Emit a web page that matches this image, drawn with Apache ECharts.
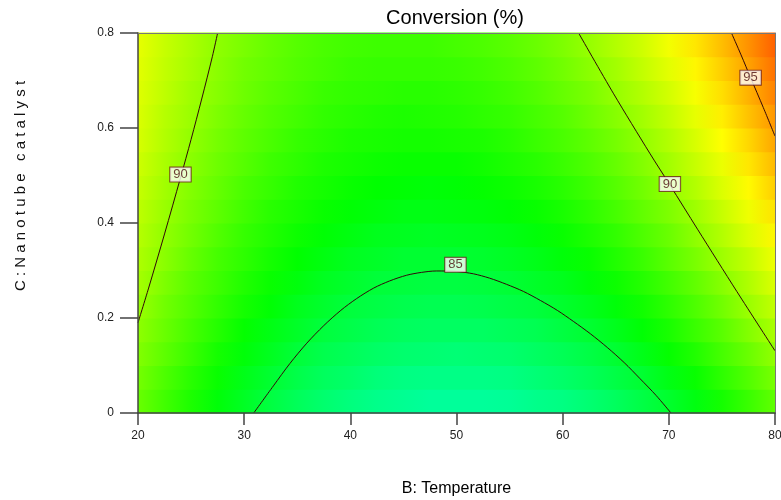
<!DOCTYPE html>
<html>
<head>
<meta charset="utf-8">
<script src="https://cdn.jsdelivr.net/npm/echarts@6/dist/echarts.min.js"></script>
<style>
html, body { margin: 0; padding: 0; background: #fff; }
#contour { width: 781px; height: 500px; }
</style>
</head>
<body>
<div id="contour"></div>
<script>
var contourChart = echarts.init(document.getElementById('contour'));

// temperature nodes along each band, catalyst band centres
var tempNodes = [20, 22.5, 25, 27.5, 30, 32.5, 35, 37.5, 40, 42.5, 45, 47.5, 50,
                 52.5, 55, 57.5, 60, 62.5, 65, 67.5, 70, 72.5, 75, 77.5, 80];
var catCells = [0.025, 0.075, 0.125, 0.175, 0.225, 0.275, 0.325, 0.375,
                0.425, 0.475, 0.525, 0.575, 0.625, 0.675, 0.725, 0.775];

// conversion (%), one row per catalyst band (bottom first)
var conv = [
  [89.0, 88.0, 87.1, 86.2, 85.5, 84.8, 84.2, 83.7, 83.3, 83.0, 82.8, 82.6, 82.6, 82.6, 82.7, 83.0, 83.2, 83.6, 84.1, 84.7, 85.3, 86.0, 86.9, 87.8, 88.8],
  [89.3, 88.3, 87.4, 86.6, 85.8, 85.2, 84.6, 84.1, 83.8, 83.4, 83.2, 83.1, 83.1, 83.1, 83.2, 83.5, 83.8, 84.2, 84.7, 85.2, 85.9, 86.6, 87.5, 88.4, 89.4],
  [89.6, 88.7, 87.8, 86.9, 86.2, 85.6, 85.0, 84.5, 84.2, 83.9, 83.7, 83.6, 83.5, 83.6, 83.7, 84.0, 84.3, 84.7, 85.2, 85.8, 86.5, 87.2, 88.1, 89.0, 90.0],
  [89.9, 89.0, 88.1, 87.3, 86.5, 85.9, 85.4, 84.9, 84.6, 84.3, 84.1, 84.0, 84.0, 84.0, 84.2, 84.4, 84.8, 85.2, 85.7, 86.3, 87.0, 87.8, 88.6, 89.6, 90.6],
  [90.2, 89.2, 88.4, 87.6, 86.9, 86.3, 85.7, 85.3, 84.9, 84.7, 84.5, 84.4, 84.4, 84.5, 84.7, 84.9, 85.3, 85.7, 86.2, 86.8, 87.5, 88.3, 89.2, 90.2, 91.2],
  [90.5, 89.5, 88.6, 87.9, 87.2, 86.6, 86.1, 85.6, 85.3, 85.0, 84.9, 84.8, 84.8, 84.9, 85.1, 85.4, 85.7, 86.2, 86.7, 87.3, 88.0, 88.8, 89.7, 90.7, 91.8],
  [90.7, 89.8, 88.9, 88.1, 87.5, 86.9, 86.4, 86.0, 85.6, 85.4, 85.2, 85.2, 85.2, 85.3, 85.5, 85.8, 86.2, 86.6, 87.2, 87.8, 88.6, 89.4, 90.3, 91.2, 92.3],
  [90.9, 90.0, 89.2, 88.4, 87.7, 87.2, 86.7, 86.3, 86.0, 85.7, 85.6, 85.5, 85.6, 85.7, 85.9, 86.2, 86.6, 87.1, 87.6, 88.3, 89.0, 89.9, 90.8, 91.8, 92.9],
  [91.1, 90.2, 89.4, 88.7, 88.0, 87.4, 87.0, 86.6, 86.3, 86.1, 85.9, 85.9, 86.0, 86.1, 86.3, 86.6, 87.0, 87.5, 88.1, 88.8, 89.5, 90.3, 91.3, 92.3, 93.4],
  [91.3, 90.4, 89.6, 88.9, 88.2, 87.7, 87.2, 86.9, 86.6, 86.4, 86.3, 86.2, 86.3, 86.5, 86.7, 87.0, 87.4, 87.9, 88.5, 89.2, 90.0, 90.8, 91.8, 92.8, 93.9],
  [91.5, 90.6, 89.8, 89.1, 88.5, 87.9, 87.5, 87.1, 86.9, 86.7, 86.6, 86.6, 86.6, 86.8, 87.1, 87.4, 87.8, 88.3, 88.9, 89.6, 90.4, 91.3, 92.2, 93.3, 94.4],
  [91.7, 90.8, 90.0, 89.3, 88.7, 88.2, 87.7, 87.4, 87.1, 87.0, 86.9, 86.9, 87.0, 87.1, 87.4, 87.8, 88.2, 88.7, 89.3, 90.0, 90.8, 91.7, 92.7, 93.7, 94.9],
  [91.8, 90.9, 90.2, 89.5, 88.9, 88.4, 88.0, 87.6, 87.4, 87.2, 87.1, 87.2, 87.3, 87.5, 87.7, 88.1, 88.5, 89.1, 89.7, 90.4, 91.2, 92.1, 93.1, 94.2, 95.3],
  [91.9, 91.1, 90.3, 89.7, 89.1, 88.6, 88.2, 87.8, 87.6, 87.5, 87.4, 87.4, 87.5, 87.7, 88.0, 88.4, 88.9, 89.4, 90.1, 90.8, 91.6, 92.5, 93.5, 94.6, 95.8],
  [92.0, 91.2, 90.5, 89.8, 89.2, 88.8, 88.4, 88.1, 87.8, 87.7, 87.7, 87.7, 87.8, 88.0, 88.3, 88.7, 89.2, 89.8, 90.4, 91.2, 92.0, 92.9, 93.9, 95.0, 96.2],
  [92.1, 91.3, 90.6, 89.9, 89.4, 88.9, 88.5, 88.2, 88.0, 87.9, 87.9, 87.9, 88.1, 88.3, 88.6, 89.0, 89.5, 90.1, 90.8, 91.5, 92.4, 93.3, 94.3, 95.4, 96.6]
];

// colour scale ends and spectrum stops
var scaleMin = 73.8;
var scaleMax = 99;
var spectrum = ['#0000ff', '#00ffff', '#00ff00', '#ffff00', '#ff0000'];

// contour lines [temperature, catalyst]
var line85 = [[30.9, 0], [32.75, 0.057], [34.3, 0.104], [35.9, 0.147], [37.5, 0.184], [39.1, 0.216], [40.6, 0.241],
              [42.2, 0.263], [43.7, 0.278], [45.3, 0.290], [46.7, 0.296], [48.1, 0.299], [50, 0.298], [51.6, 0.293],
              [53.1, 0.284], [54.7, 0.271], [56.3, 0.256], [57.9, 0.237], [59.5, 0.216], [61.0, 0.193],
              [62.6, 0.167], [64.2, 0.138], [65.8, 0.106], [67.3, 0.072], [68.8, 0.037], [70.2, 0]];
var line90a = [[20, 0.19], [21, 0.263], [22.5, 0.377], [24, 0.495], [25, 0.576], [26, 0.661], [27, 0.75], [27.5, 0.8]];
var line90b = [[61.5, 0.8], [64.8, 0.672], [68.2, 0.547], [70.1, 0.48], [72.7, 0.387], [76.4, 0.256], [80, 0.131]];
var line95 = [[75.9, 0.8], [76.8, 0.754], [77.7, 0.706], [78.9, 0.643], [80, 0.583]];
var contourTags = [[24, 0.502, '90'], [49.9, 0.312, '85'], [70.1, 0.482, '90'], [77.7, 0.706, '95']];

var bandData = [];
for (var j = 0; j < catCells.length; j++) {
  bandData.push([catCells[j]].concat(conv[j]));
}
var halfBand = (catCells[1] - catCells[0]) / 2;

function specColor(v) {
  var t = Math.max(0, Math.min(1, (v - scaleMin) / (scaleMax - scaleMin)));
  var pos = t * (spectrum.length - 1);
  var k = Math.min(Math.floor(pos), spectrum.length - 2);
  var f = pos - k;
  var a = echarts.color.parse(spectrum[k]), b = echarts.color.parse(spectrum[k + 1]);
  return 'rgb(' + Math.round(a[0] + (b[0] - a[0]) * f) + ',' +
    Math.round(a[1] + (b[1] - a[1]) * f) + ',' +
    Math.round(a[2] + (b[2] - a[2]) * f) + ')';
}

function renderBand(params, api) {
  var c = api.value(0);
  var first = tempNodes[0], last = tempNodes[tempNodes.length - 1];
  var p0 = api.coord([first, c + halfBand]);
  var p1 = api.coord([last, c - halfBand]);
  var stops = [];
  for (var k = 0; k < tempNodes.length; k++) {
    stops.push({ offset: (tempNodes[k] - first) / (last - first), color: specColor(api.value(k + 1)) });
  }
  return {
    type: 'rect',
    shape: { x: p0[0], y: p0[1] - 0.5, width: p1[0] - p0[0], height: p1[1] - p0[1] + 1 },
    style: { fill: { type: 'linear', x: 0, y: 0, x2: 1, y2: 0, colorStops: stops } },
    silent: true
  };
}

var fontName = 'Liberation Sans, Arial, sans-serif';

function contourLine(pts) {
  return {
    type: 'line',
    data: pts,
    smooth: 0.3,
    symbol: 'none',
    silent: true,
    z: 5,
    lineStyle: { color: '#330808', width: 1 }
  };
}

function frameAxis(pos) {
  return {
    type: 'value', position: pos, z: 10,
    min: pos === 'top' ? 20 : 0, max: pos === 'top' ? 80 : 0.8,
    axisLine: { show: true, onZero: false, lineStyle: { color: '#777', width: 1 } },
    axisTick: { show: false }, axisLabel: { show: false }, splitLine: { show: false }
  };
}

var option = {
  animation: false,
  grid: { left: 138, right: 6, top: 33, bottom: 87, outerBoundsMode: 'none', containLabel: false },
  graphic: [
    {
      type: 'text', x: 455, y: 18, z: 20,
      style: { text: 'Conversion (%)', fontSize: 20, fontFamily: fontName, fill: '#000', align: 'center', verticalAlign: 'middle' }
    },
    {
      type: 'text', x: 21, y: 186, rotation: Math.PI / 2, z: 20,
      style: { text: 'C : N a n o t u b e   c a t a l y s t', fontSize: 15, fontFamily: fontName, fill: '#111', align: 'center', verticalAlign: 'middle' }
    }
  ],
  xAxis: [
    {
      type: 'value', min: 20, max: 80, interval: 10, position: 'bottom', z: 10,
      name: 'B: Temperature', nameLocation: 'middle', nameGap: 68,
      nameTextStyle: { fontSize: 16, color: '#000', fontFamily: fontName },
      axisLine: { show: true, onZero: false, lineStyle: { color: '#444', width: 1.5 } },
      axisTick: { show: true, length: 12, lineStyle: { color: '#444', width: 1.5 } },
      axisLabel: { margin: 17, fontSize: 12, color: '#222', fontFamily: fontName },
      splitLine: { show: false }
    },
    frameAxis('top')
  ],
  yAxis: [
    {
      type: 'value', min: 0, max: 0.8, interval: 0.2, z: 10,
      axisLine: { show: true, onZero: false, lineStyle: { color: '#444', width: 1.5 } },
      axisTick: { show: true, length: 18, lineStyle: { color: '#444', width: 1.5 } },
      axisLabel: { margin: 24, fontSize: 12, color: '#222', fontFamily: fontName },
      splitLine: { show: false }
    },
    frameAxis('right')
  ],
  series: [
    {
      type: 'custom',
      data: bandData,
      renderItem: renderBand,
      encode: { x: 1, y: 0 },
      silent: true,
      z: 1
    },
    contourLine(line85),
    contourLine(line90a),
    contourLine(line90b),
    contourLine(line95),
    {
      type: 'scatter',
      data: contourTags,
      symbolSize: 1,
      itemStyle: { color: 'rgba(0,0,0,0)' },
      silent: true,
      z: 8,
      label: {
        show: true,
        position: 'inside',
        formatter: function (p) { return p.data[2]; },
        backgroundColor: 'rgba(255,255,255,1)',
        borderColor: '#6b1f1f',
        borderWidth: 1,
        padding: [1, 3, 0, 3],
        color: '#4a0c0c',
        fontSize: 13,
        fontFamily: fontName
      }
    }
  ]
};

contourChart.setOption(option);
</script>
</body>
</html>
